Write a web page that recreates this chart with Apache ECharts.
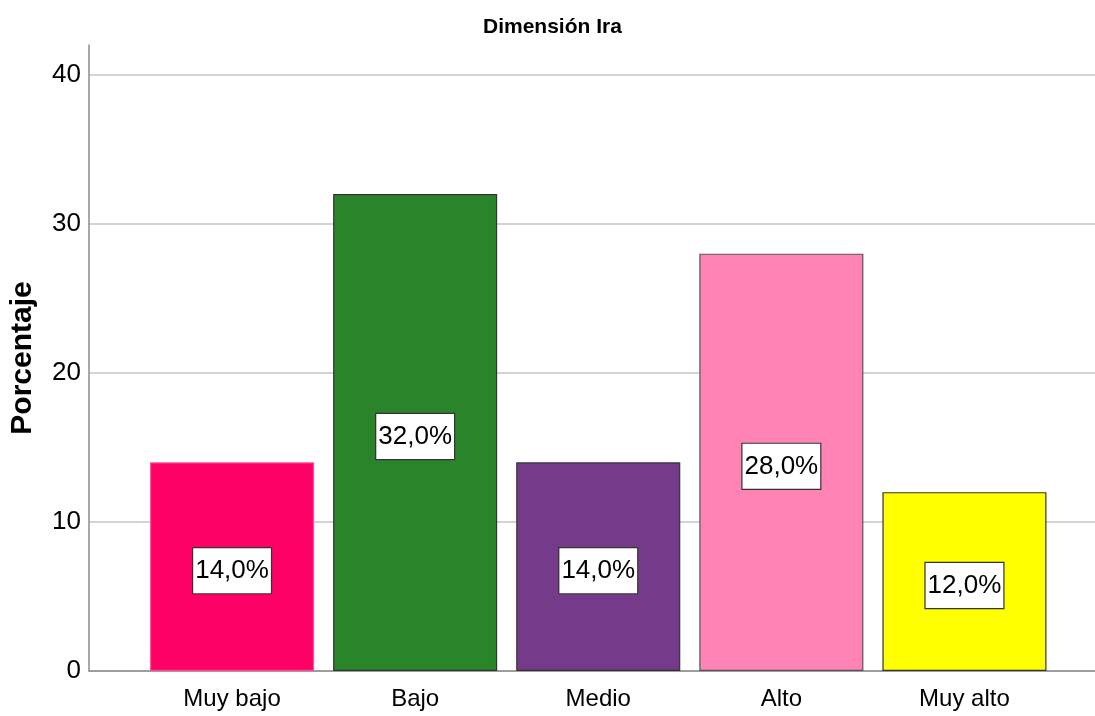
<!DOCTYPE html>
<html>
<head>
<meta charset="utf-8">
<title>Dimensión Ira</title>
<script src="https://cdn.jsdelivr.net/npm/echarts@6/dist/echarts.min.js"></script>
<style>
  html, body { margin: 0; padding: 0; background: #ffffff; }
  #chart { width: 1095px; height: 716px; }
</style>
</head>
<body>
<div id="chart"></div>
<script>
// Data
const categories = ['Muy bajo', 'Bajo', 'Medio', 'Alto', 'Muy alto'];
const percentages = [14.0, 32.0, 14.0, 28.0, 12.0];
const barColors = ['#FF0066', '#2A852A', '#763A8A', '#FF83B5', '#FFFF00'];
const barBorders = ['#FF4D94', '#333333', '#333333', '#555555', '#333333'];
const yTicks = [0, 10, 20, 30, 40];

const FONT = '"Liberation Sans", Arial, sans-serif';
const Y_MAX_GRID = yTicks[yTicks.length - 1];
const Y_MAX_AXIS = 42;

const chart = echarts.init(document.getElementById('chart'), null, { renderer: 'canvas' });

const option = {
  backgroundColor: '#ffffff',
  animation: false,
  title: {
    text: 'Dimensión Ira',
    left: 483,
    top: 17,
    padding: 0,
    textStyle: { fontFamily: FONT, fontSize: 21, fontWeight: 'bold', color: '#000' }
  },
  grid: [
    // full-width frame: gridlines, tick labels and the zero line
    { left: 89, right: 0, top: 75, bottom: 45, outerBoundsMode: 'none', containLabel: false },
    // bar area
    { left: 140.5, right: 39, top: 45, bottom: 45, outerBoundsMode: 'none', containLabel: false }
  ],
  xAxis: [
    {
      gridIndex: 0,
      type: 'category',
      data: categories,
      axisLine: { show: true, lineStyle: { color: '#8c8c8c', width: 1.5 } },
      axisTick: { show: false },
      axisLabel: { show: false }
    },
    {
      gridIndex: 1,
      type: 'category',
      data: categories,
      axisLine: { show: false },
      axisTick: { show: false },
      axisLabel: {
        margin: 16,
        fontFamily: FONT, fontSize: 24, color: '#000'
      }
    }
  ],
  yAxis: [
    {
      gridIndex: 0,
      type: 'value',
      min: 0,
      max: Y_MAX_GRID,
      interval: 10,
      axisLine: { show: false },
      axisTick: { show: false },
      axisLabel: {
        margin: 8,
        padding: [6, 0, 0, 0],
        fontFamily: FONT, fontSize: 26, color: '#000'
      },
      splitLine: { show: true, lineStyle: { color: '#c4c4c4', width: 1.5 } }
    },
    {
      gridIndex: 1,
      type: 'value',
      min: 0,
      max: Y_MAX_AXIS,
      interval: 10,
      offset: 51.5,
      axisLine: { show: true, lineStyle: { color: '#8c8c8c', width: 1.5 } },
      axisTick: { show: false },
      axisLabel: { show: false },
      splitLine: { show: false },
      name: 'Porcentaje',
      nameLocation: 'middle',
      nameGap: 51,
      nameTextStyle: { fontFamily: FONT, fontSize: 30, fontWeight: 'bold', color: '#000' }
    }
  ],
  series: [
    {
      type: 'bar',
      xAxisIndex: 1,
      yAxisIndex: 1,
      barCategoryGap: '10.4%',
      data: percentages.map((v, i) => ({
        value: v,
        itemStyle: { color: barColors[i], borderColor: barBorders[i], borderWidth: 1.2 }
      })),
      label: {
        show: true,
        position: 'inside',
        offset: [0, 4],
        formatter: p => p.value.toFixed(1).replace('.', ',') + '%',
        fontFamily: FONT,
        fontSize: 26,
        lineHeight: 28,
        color: '#000',
        backgroundColor: '#ffffff',
        borderColor: '#333333',
        borderWidth: 1.2,
        padding: [9, 2, 8, 2]
      },
      z: 3
    }
  ]
};

chart.setOption(option);
</script>
</body>
</html>
